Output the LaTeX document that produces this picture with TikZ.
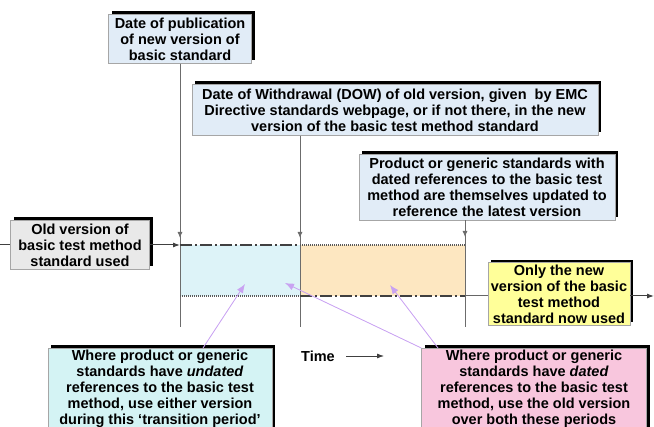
\documentclass[tikz,border=0pt]{standalone}
\usepackage{fontspec}
\setmainfont{Liberation Sans}
\usepackage{xcolor}
\usepackage{tikz}
\usetikzlibrary{calc, positioning, arrows.meta, shadows}

\definecolor{noteblue}{HTML}{E1ECF7}
\definecolor{notegray}{HTML}{E9E9E9}
\definecolor{noteyellow}{HTML}{FFFF99}
\definecolor{notecyan}{HTML}{D4F3F4}
\definecolor{notepink}{HTML}{F8C6DD}
\definecolor{periodblue}{HTML}{DDF3F8}
\definecolor{periodorange}{HTML}{FDE7C1}
\definecolor{pointer}{HTML}{C9A2F2}

\tikzset{
    note/.style={rectangle, draw=gray!70, thin, fill=noteblue, align=center, inner sep=2pt,
        font=\fontsize{14.5}{16}\selectfont\bfseries,
        drop shadow={shadow xshift=3pt, shadow yshift=3pt, opacity=1, fill=black}},
    vline/.style={draw=gray!85!black, line width=0.9pt},
    marker/.style={-{Latex[length=6pt, width=5pt]}, line width=0.9pt, draw=gray!85!black},
    dashdot/.style={line width=1.6pt, draw=black!75, dash pattern=on 12pt off 3pt on 2pt off 3pt},
    dots/.style={line width=1.4pt, draw=black!65, dash pattern=on 1pt off 1pt},
    flow/.style={-{Latex[length=7pt, width=5pt]}, line width=1pt, draw=black!75},
    hint/.style={-{Latex[length=9pt, width=7pt]}, line width=0.8pt, draw=pointer, fill=pointer}
}

\begin{document}
\begin{tikzpicture}[x=1pt, y=-1pt]
    \useasboundingbox (0,0) rectangle (654,427);

    % --- PERIODS ---
    \fill[periodblue] (180,245) rectangle (300,296);
    \fill[periodorange] (300,245) rectangle (465,296);

    % --- NOTES ABOVE ---
    \node[note, minimum width=143pt, minimum height=49pt] (Pub) at (180,39)
        {Date of publication\\of new version of\\basic standard};
    \node[note, minimum width=406pt, minimum height=51pt] (DOW) at (395,110)
        {Date of Withdrawal (DOW) of old version, given\ \ by EMC\\Directive standards webpage, or if not there, in the new\\version of the basic test method standard};
    \node[note, minimum width=256pt, minimum height=66pt] (Prod) at (487,187)
        {Product or generic standards with\\dated references to the basic test\\method are themselves updated to\\reference the latest version};

    % Time marks
    \coordinate (P1) at (180,327);
    \coordinate (P2) at (300,327);
    \coordinate (P3) at (465,327);
    \draw[vline] (Pub.south) -- (P1);
    \draw[vline] (DOW.south -| P2) -- (P2);
    \draw[vline] (Prod.south -| P3) -- (P3);
    \draw[marker] (Pub.south) -- (180,238);
    \draw[marker] (DOW.south -| P2) -- (300,238);
    \draw[marker] (Prod.south -| P3) -- (465,237);

    % --- TIME LINE ---
    \node[note, fill=notegray, minimum width=139pt, minimum height=49pt] (Old) at (80,245)
        {Old version of\\basic test method\\standard used};
    \node[note, fill=noteyellow, minimum width=142pt, minimum height=58pt] (New) at (559,294)
        {Only the new\\version of the basic\\test method\\standard now used};

    \coordinate (Start) at (0,245);
    \coordinate (U1) at (180,245);
    \coordinate (U2) at (300,245);
    \coordinate (U3) at (465,245);
    \coordinate (L1) at (180,296);
    \coordinate (L2) at (300,296);
    \coordinate (L3) at (465,296);
    \coordinate (End) at (654,296);

    \draw[line width=1pt, draw=black!75] (Start) -- (Old.west);
    \draw[flow] (Old.east) -- (U1);
    \draw[dashdot] (U1) -- (U2);
    \draw[dots] (U2) -- (U3);
    \draw[dots] (L1) -- (L2);
    \draw[dashdot] (L2) -- (L3);
    \draw[line width=1pt, draw=black!60] (L3) -- (New.west |- L3);
    \draw[flow] (New.east |- L3) -- (End);

    % Time
    \node[font=\fontsize{14.5}{16}\selectfont\bfseries] (Time) at (318,356) {Time};
    \coordinate (TimeEnd) at (384,356);
    \draw[flow, line width=0.8pt] (Time.east) ++(8,0) -- (TimeEnd);

    % --- NOTES BELOW ---
    \node[note, fill=notecyan, minimum width=224pt, anchor=north] (Undated) at (160,348)
        {Where product or generic\\standards have \textit{undated}\\references to the basic test\\method, use either version\\during this `transition period'};
    \node[note, fill=notepink, minimum width=225pt, anchor=north] (Dated) at (534,348)
        {Where product or generic\\standards have \textit{dated}\\references to the basic test\\method, use the old version\\over both these periods};

    % Pointers
    \coordinate (Hint1) at (245,284);
    \coordinate (Hint2) at (285,283);
    \coordinate (Hint3) at (390,285);
    \draw[hint] (Undated.north -| 203,0) -- (Hint1);
    \draw[hint] (Dated.north west) -- (Hint2);
    \draw[hint] (Dated.north -| 438,0) -- (Hint3);

\end{tikzpicture}
\end{document}
